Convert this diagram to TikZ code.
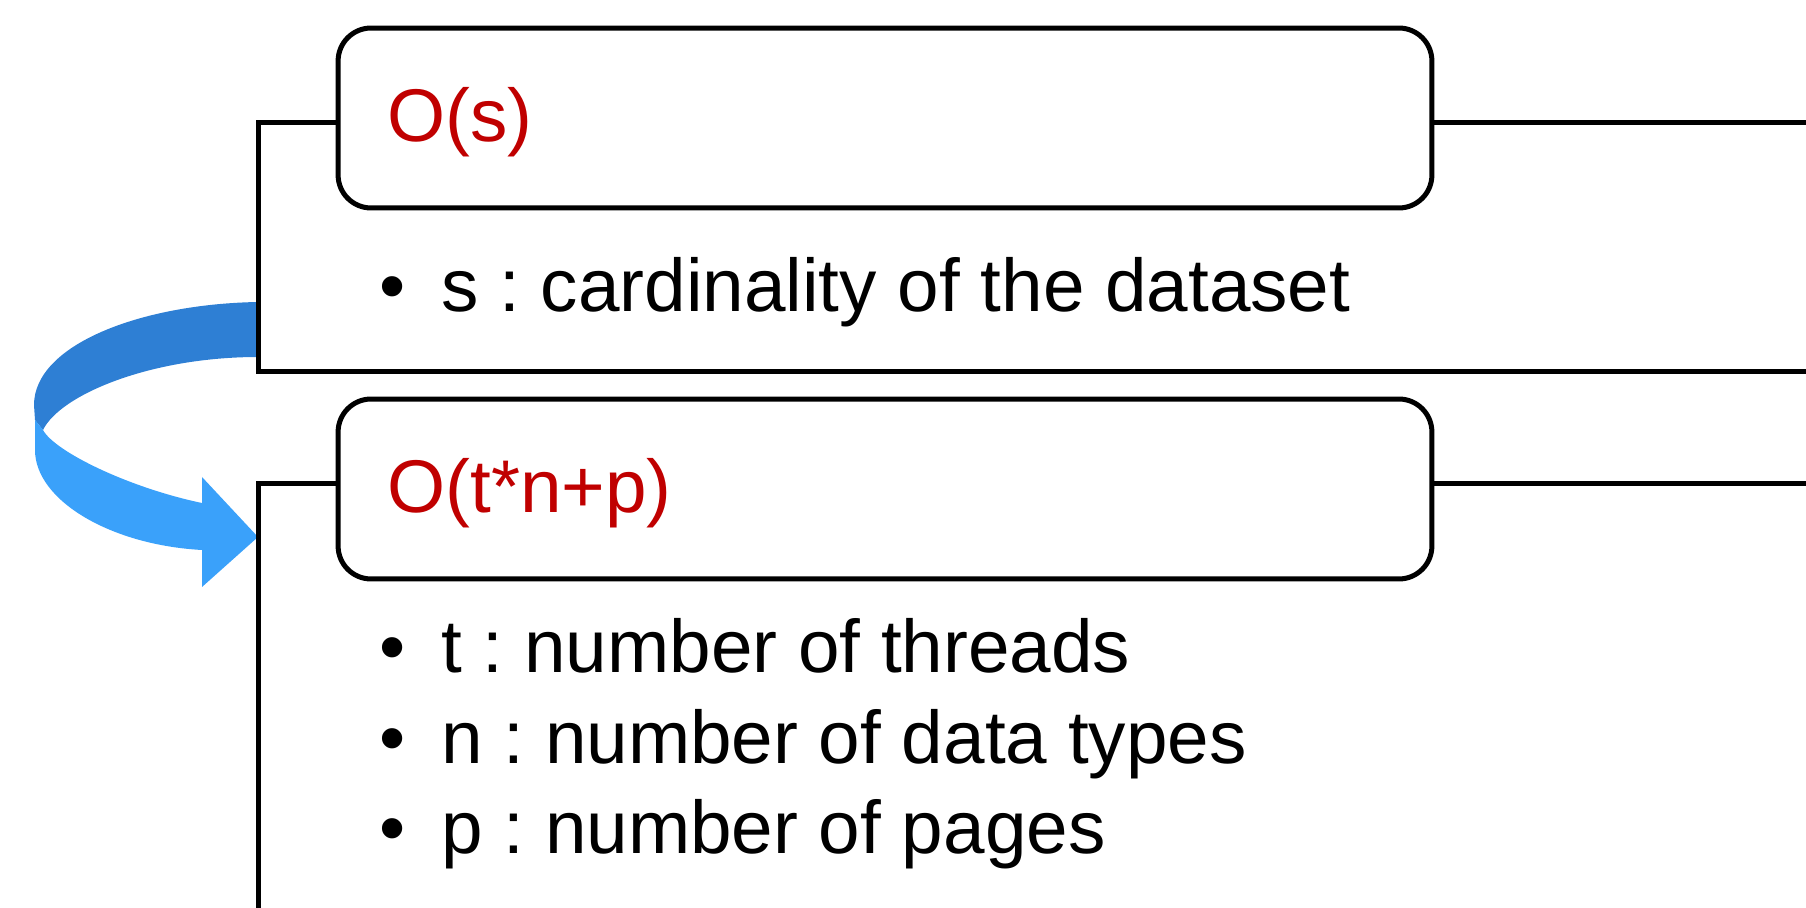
\documentclass[tikz,border=0pt]{standalone}
\usepackage{fontspec}
\setmainfont{Liberation Sans}
\usepackage{xcolor}
\definecolor{costred}{RGB}{192,0,0}
\definecolor{turndark}{RGB}{46,127,212}
\definecolor{turnlight}{RGB}{58,161,250}
\frenchspacing

\begin{document}
\begin{tikzpicture}[x=0.02cm, y=-0.02cm,
    costbox/.style = {draw, line width=0.1cm, fill=white,
                rounded corners=0.66cm, inner sep=0pt,
                minimum width=21.88cm, minimum height=3.6cm},
    cost/.style = {anchor=base west, inner sep=0pt, text=costred,
                font=\fontsize{42.5}{52}\selectfont},
    item/.style = {anchor=base west, inner sep=0pt,
                font=\fontsize{42.5}{52}\selectfont},
    bullet/.style = {anchor=base, inner sep=0pt,
                font=\fontsize{42.5}{52}\selectfont},
    outline/.style = {line width=0.1cm}
                    ]
    \def\lx{258}   % left edge of the frames
    \def\rx{1850}  % frames run off the right side
    \def\bx{393}   % bullet column
    \def\tx{441}   % item text column
    \useasboundingbox (0,0) rectangle (1806,908);
    \clip (0,0) rectangle (1806,908);

    % turning arrow, upper (dark) and lower (light) half of the ribbon
    \coordinate (tip) at (\lx,537);
    \fill[turndark] (\lx,302) .. controls (140,304) and (34,345) .. (34,405)
        -- (35,420) -- (43,430) .. controls (60,395) and (150,357) .. (\lx,357) -- cycle;
    \fill[turnlight] (35,420) -- (35,450) .. controls (35,500) and (110,545) .. (202,550)
        -- (202,587) -- (tip) -- (202,477) -- (202,503)
        .. controls (130,488) and (55,452) .. (43,430) -- cycle;

    % frames
    \draw[outline] (\rx,123) -- (\lx,123) -- (\lx,372) -- (\rx,372);
    \draw[outline] (\rx,484) -- (\lx,484) -- (\lx,930);

    % first cost
    \node[costbox] (boxs) at (885,118) {};
    \node[cost] (costs) at (387,142) {O(s)};
    \node[bullet] (b1) at (\bx,312) {•};
    \node[item] (s) at (\tx,312) {s : cardinality of the dataset};

    % second cost
    \node[costbox] (boxt) at (885,489) {};
    \node[cost] (costt) at (387,513) {O(t*n+p)};
    \node[bullet] (b2) at (\bx,673) {•};
    \node[item] (t) at (\tx,673) {t : number of threads};
    \node[bullet] (b3) at (\bx,763) {•};
    \node[item] (n) at (\tx,763) {n : number of data types};
    \node[bullet] (b4) at (\bx,853) {•};
    \node[item] (p) at (\tx,853) {p : number of pages};
\end{tikzpicture}
\end{document}
